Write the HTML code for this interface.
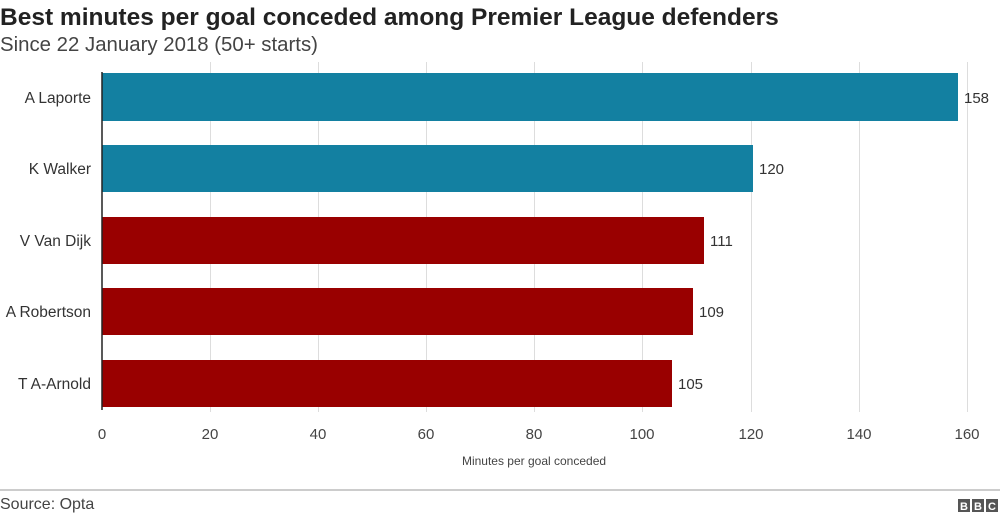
<!DOCTYPE html>
<html><head><style>
body{margin:0;width:1000px;height:520px;background:#fff;font-family:"Liberation Sans",Arial,sans-serif;overflow:hidden;position:relative}
</style></head><body>
<svg width="1000" height="520" xmlns="http://www.w3.org/2000/svg" style="position:absolute;left:0;top:0;font-family:'Liberation Sans',Arial,sans-serif">
<text x="0" y="25" font-size="24.5" font-weight="bold" fill="#222">Best minutes per goal conceded among Premier League defenders</text>
<text x="0" y="51" font-size="20.4" fill="#444">Since 22 January 2018 (50+ starts)</text>
<g stroke="#ddd" stroke-width="1">
<line x1="210.5" y1="62" x2="210.5" y2="412"/><line x1="318.5" y1="62" x2="318.5" y2="412"/>
<line x1="426.5" y1="62" x2="426.5" y2="412"/><line x1="534.5" y1="62" x2="534.5" y2="412"/>
<line x1="642.5" y1="62" x2="642.5" y2="412"/><line x1="751.5" y1="62" x2="751.5" y2="412"/>
<line x1="859.5" y1="62" x2="859.5" y2="412"/><line x1="967.5" y1="62" x2="967.5" y2="412"/>
</g>
<rect x="102" y="73" width="856" height="48" fill="#1380A1"/>
<rect x="102" y="145" width="651" height="47" fill="#1380A1"/>
<rect x="102" y="217" width="602" height="47" fill="#990000"/>
<rect x="102" y="288" width="591" height="47" fill="#990000"/>
<rect x="102" y="360" width="570" height="47" fill="#990000"/>
<line x1="102" y1="72" x2="102" y2="410" stroke="#222" stroke-width="1.5"/>
<g font-size="15.5" fill="#333" text-anchor="end">
<text x="91" y="103">A Laporte</text><text x="91" y="174">K Walker</text>
<text x="91" y="246">V Van Dijk</text><text x="91" y="317">A Robertson</text>
<text x="91" y="389">T A-Arnold</text>
</g>
<g font-size="15" fill="#333">
<text x="964" y="103">158</text><text x="759" y="174">120</text>
<text x="710" y="246">111</text><text x="699" y="317">109</text><text x="678" y="389">105</text>
</g>
<g font-size="15" fill="#444" text-anchor="middle">
<text x="102" y="439">0</text><text x="210" y="439">20</text><text x="318" y="439">40</text>
<text x="426" y="439">60</text><text x="534" y="439">80</text><text x="642" y="439">100</text>
<text x="751" y="439">120</text><text x="859" y="439">140</text><text x="967" y="439">160</text>
<text x="534" y="465" font-size="12">Minutes per goal conceded</text>
</g>
<line x1="0" y1="490" x2="1000" y2="490" stroke="#bbb" stroke-width="1.5"/>
<text x="0" y="509" font-size="16" fill="#444">Source: Opta</text>
<g font-size="11" font-weight="bold" fill="#fff" text-anchor="middle">
<rect x="958" y="499" width="12" height="13" fill="#555"/><text x="964" y="510">B</text>
<rect x="972" y="499" width="12" height="13" fill="#555"/><text x="978" y="510">B</text>
<rect x="986" y="499" width="12" height="13" fill="#555"/><text x="992" y="510">C</text>
</g>
</svg>
</body></html>
